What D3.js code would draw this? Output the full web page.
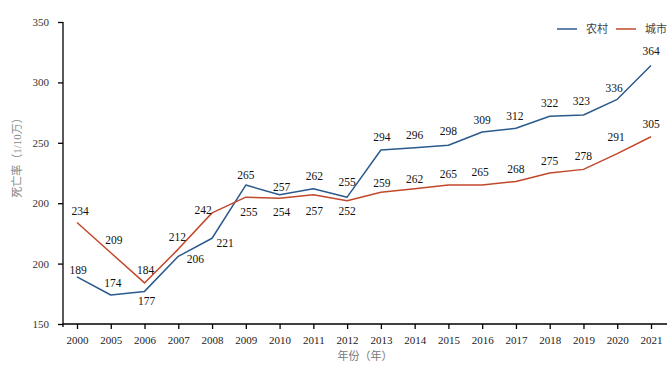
<!DOCTYPE html>
<html>
<head>
<meta charset="utf-8">
<script src="https://cdn.jsdelivr.net/npm/d3@7"></script>
<style>
  html, body { margin: 0; padding: 0; background: #fff; }
  svg { display: block; }
  text { font-family: "Liberation Serif", "Times New Roman", "Noto Sans CJK SC", serif; }
</style>
</head>
<body>
<svg id="chart" width="672" height="365"></svg>
<script>
// ---- data ----
const years = ["2000","2005","2006","2007","2008","2009","2010","2011","2012","2013","2014","2015","2016","2017","2018","2019","2020","2021"];
const rural = [189,174,177,206,221,265,257,262,255,294,296,298,309,312,322,323,336,364];
const urban = [234,209,184,212,242,255,254,257,252,259,262,265,265,268,275,278,291,305];
const yTickValues = [150,200,250,300,350,400];
const yTickLabels = ["150","200","200","250","300","350"];
const seriesNames = ["农村","城市"];
const yTitle = "死亡率（1/10万）";
const xTitle = "年份（年）";

// ---- label placement (layout only) ----
const ruralLabelOffset = [[1,-3],[2,-8],[2,14],[17,7],[13,9],[0,-6],[2,-4],[1,-9],[0,-11],[1,-9],[0,-9],[0,-10],[0,-8],[-1,-8],[0,-9],[-2,-10],[-3,-7],[0,-10]];
const urbanLabelOffset = [[3,-8],[3,-9],[1,-9],[-1,-8],[-9,1],[3,19],[2,18],[1,20],[0,14],[1,-5],[0,-6],[0,-7],[-2,-9],[0,-8],[0,-8],[0,-9],[-1,-13],[0,-9]];

const colors = ["#2c5a8c", "#c2482c"];

const svg = d3.select("#chart");

const x = d3.scalePoint().domain(years).range([77, 651]);
const y = d3.scaleLinear().domain([150, 400]).range([324, 22]);

// y axis
const yAxis = d3.axisLeft(y).tickValues(yTickValues)
  .tickFormat((d, i) => yTickLabels[i]).tickSize(5).tickPadding(9).tickSizeOuter(0);
const gy = svg.append("g").attr("transform", "translate(63,0)").call(yAxis);
gy.select(".domain").attr("d", "M0,22V327").attr("stroke", "#000").attr("stroke-width", 1.3);
gy.selectAll(".tick line").attr("stroke", "#000").attr("stroke-width", 1.3);
gy.selectAll(".tick text").attr("font-size", 11).attr("fill", "#333")
  .style("font-family", "'Liberation Serif', serif");

// x axis
const xAxis = d3.axisBottom(x).tickSize(5).tickPadding(7).tickSizeOuter(0);
const gx = svg.append("g").attr("transform", "translate(0,324)").call(xAxis);
gx.select(".domain").attr("d", "M63,0H667").attr("stroke", "#000").attr("stroke-width", 1.3);
gx.selectAll(".tick line").attr("stroke", "#000").attr("stroke-width", 1.3);
gx.selectAll(".tick text").attr("font-size", 11).attr("fill", "#222")
  .style("font-family", "'Liberation Serif', serif");

// axis titles
svg.append("text")
  .attr("transform", "translate(21,155) rotate(-90)")
  .attr("text-anchor", "middle")
  .attr("font-size", 11)
  .attr("fill", "#888")
  .text(yTitle);
svg.append("text")
  .attr("x", 365).attr("y", 360)
  .attr("text-anchor", "middle")
  .attr("font-size", 11)
  .attr("fill", "#777")
  .text(xTitle);

// lines
const line = d3.line().x((d, i) => x(years[i])).y(d => y(d));
[rural, urban].forEach((s, k) => {
  svg.append("path")
    .datum(s)
    .attr("fill", "none")
    .attr("stroke", colors[k])
    .attr("stroke-width", 1.5)
    .attr("stroke-linejoin", "round")
    .attr("d", line);
});

// data labels
[[rural, ruralLabelOffset], [urban, urbanLabelOffset]].forEach(([s, off]) => {
  svg.append("g").selectAll("text")
    .data(s)
    .join("text")
    .attr("x", (d, i) => x(years[i]) + off[i][0])
    .attr("y", (d, i) => y(d) + off[i][1])
    .attr("text-anchor", "middle")
    .attr("font-size", 11.5)
    .attr("fill", "#111")
    .text(d => d);
});

// legend
const legendItems = [{x: 557, name: seriesNames[0], c: colors[0]}, {x: 616, name: seriesNames[1], c: colors[1]}];
legendItems.forEach(it => {
  svg.append("line")
    .attr("x1", it.x).attr("x2", it.x + 20)
    .attr("y1", 29).attr("y2", 29)
    .attr("stroke", it.c).attr("stroke-width", 1.5);
  svg.append("text")
    .attr("x", it.x + 29).attr("y", 33)
    .attr("font-size", 11)
    .attr("fill", "#444")
    .text(it.name);
});
</script>
</body>
</html>
